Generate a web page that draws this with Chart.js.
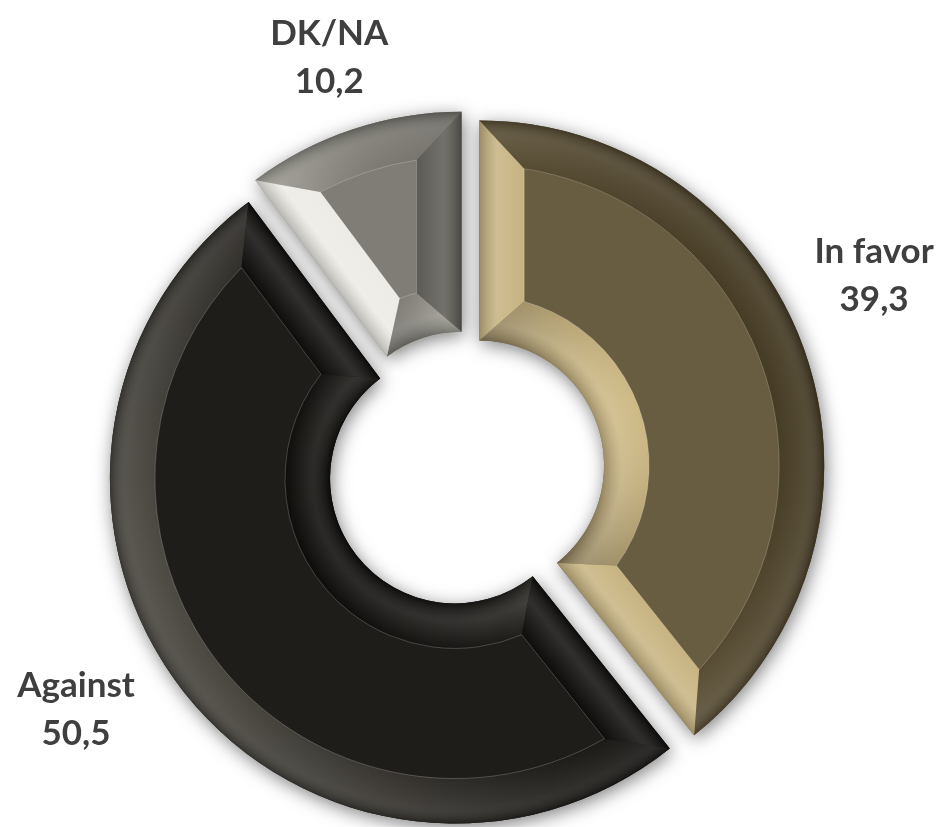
<!DOCTYPE html>
<html>
<head>
<meta charset="utf-8">
<script src="https://cdn.jsdelivr.net/npm/chart.js@4.4.1/dist/chart.umd.min.js"></script>
<style>
  html, body { margin: 0; background: #fff; }
  #wrap { width: 945px; height: 827px; }
</style>
</head>
<body>
<div id="wrap"><canvas id="poll" width="945" height="827"></canvas></div>
<script>
// survey result, percent
const labels = ['In favor', 'Against', 'DK/NA'];
const values = [39.3, 50.5, 10.2];

// per-slice look: flat face, lit bevel, shaded bevel
const faceColors = ['#685c41', '#1f1d1a', '#7f7d75'];
const hiColors = ['#cdb985', '#4c4942', '#f2f0ea'];
const loColors = ['#463c25', '#0d0c0a', '#5a5852'];

const EXPLODE = 14;             // px each slice is pulled out
const BEVEL = 45;               // px width of the bevelled rim
const LIGHT = 160 * Math.PI / 180; // light comes from the west / south-west

function hexRgb(h) {
  const n = parseInt(h.slice(1), 16);
  return [(n >> 16) & 255, (n >> 8) & 255, n & 255];
}
function mix(a, b, t) {
  const x = hexRgb(a), y = hexRgb(b);
  const c = x.map((v, k) => Math.round(v + (y[k] - v) * t));
  return `rgb(${c[0]},${c[1]},${c[2]})`;
}
function shadeAt(i, normal) {
  const k = Math.cos(normal - LIGHT);
  return k >= 0 ? mix(faceColors[i], hiColors[i], k) : mix(faceColors[i], loColors[i], -k);
}
function conic(ctx, x, y, i, shift, fallbackAngle) {
  if (!ctx.createConicGradient) return shadeAt(i, fallbackAngle + shift);
  const g = ctx.createConicGradient(0, x, y);
  for (let d = 0; d <= 360; d += 6) g.addColorStop(d / 360, shadeAt(i, d * Math.PI / 180 + shift));
  return g;
}

// move every arc out along its own bisector (library geometry, shifted)
const explodePlugin = {
  id: 'explode',
  afterDatasetsUpdate(chart) {
    chart.getDatasetMeta(0).data.forEach(arc => {
      const mid = (arc.startAngle + arc.endAngle) / 2;
      arc.x += Math.cos(mid) * EXPLODE;
      arc.y += Math.sin(mid) * EXPLODE;
    });
  }
};

const bevelPlugin = {
  id: 'bevel',
  beforeDatasetsDraw(chart) {
    const ctx = chart.ctx;
    ctx.save();
    ctx.shadowColor = 'rgba(0,0,0,0.5)';
    ctx.shadowBlur = 18;
    ctx.shadowOffsetX = 2;
    ctx.shadowOffsetY = 4;
  },
  afterDatasetsDraw(chart) {
    const ctx = chart.ctx;
    ctx.restore();
    chart.getDatasetMeta(0).data.forEach((arc, i) => {
      const { x, y, startAngle: s, endAngle: e, innerRadius: r, outerRadius: R } = arc;
      const ro = R - BEVEL, ri = r + BEVEL;
      const ao = Math.asin(BEVEL / ro), ai = Math.asin(BEVEL / ri);
      const mid = (s + e) / 2;
      const pt = (rad, a) => [x + Math.cos(a) * rad, y + Math.sin(a) * rad];

      // outer rim
      ctx.beginPath();
      ctx.arc(x, y, R, s, e);
      ctx.arc(x, y, ro, e - ao, s + ao, true);
      ctx.closePath();
      ctx.fillStyle = conic(ctx, x, y, i, 0, mid);
      ctx.fill();
      let g = ctx.createRadialGradient(x, y, ro, x, y, R);
      g.addColorStop(0, 'rgba(255,255,255,0)');
      g.addColorStop(0.6, 'rgba(255,255,255,0.07)');
      g.addColorStop(1, 'rgba(0,0,0,0.25)');
      ctx.fillStyle = g;
      ctx.fill();

      // inner rim
      ctx.beginPath();
      ctx.arc(x, y, r, s, e);
      ctx.arc(x, y, ri, e - ai, s + ai, true);
      ctx.closePath();
      ctx.fillStyle = conic(ctx, x, y, i, Math.PI, mid);
      ctx.fill();
      g = ctx.createRadialGradient(x, y, r, x, y, ri);
      g.addColorStop(0, 'rgba(0,0,0,0.22)');
      g.addColorStop(0.4, 'rgba(255,255,255,0.12)');
      g.addColorStop(1, 'rgba(255,255,255,0)');
      ctx.fillStyle = g;
      ctx.fill();

      // straight side rims
      const sides = [
        { a: s, face: s + ao, faceIn: s + ai, n: s - Math.PI / 2 },
        { a: e, face: e - ao, faceIn: e - ai, n: e + Math.PI / 2 }
      ];
      sides.forEach(side => {
        const p = [pt(R, side.a), pt(r, side.a), pt(ri, side.faceIn), pt(ro, side.face)];
        ctx.beginPath();
        ctx.moveTo(p[0][0], p[0][1]);
        p.slice(1).forEach(q => ctx.lineTo(q[0], q[1]));
        ctx.closePath();
        ctx.fillStyle = shadeAt(i, side.n);
        ctx.fill();
        const m = pt((R + r) / 2, side.a);
        const inward = side.n + Math.PI;
        const lg = ctx.createLinearGradient(m[0], m[1],
          m[0] + Math.cos(inward) * BEVEL, m[1] + Math.sin(inward) * BEVEL);
        lg.addColorStop(0, 'rgba(0,0,0,0.22)');
        lg.addColorStop(0.4, 'rgba(255,255,255,0.14)');
        lg.addColorStop(1, 'rgba(255,255,255,0)');
        ctx.fillStyle = lg;
        ctx.fill();
      });

      // thin rim line around the flat face
      ctx.beginPath();
      ctx.arc(x, y, ro, s + ao, e - ao);
      ctx.arc(x, y, ri, e - ai, s + ai, true);
      ctx.closePath();
      ctx.lineWidth = 1;
      ctx.strokeStyle = 'rgba(255,255,255,0.2)';
      ctx.stroke();
    });
  }
};

// outside labels, placed along each slice's bisector
const labelPlugin = {
  id: 'outLabels',
  afterDraw(chart, args, opts) {
    const ctx = chart.ctx;
    const area = chart.chartArea;
    const cx = (area.left + area.right) / 2;
    const cy = (area.top + area.bottom) / 2;
    ctx.save();
    ctx.font = 'bold 35px Lato, "Open Sans", sans-serif';
    ctx.fillStyle = '#3f3f3f';
    ctx.textAlign = 'center';
    ctx.textBaseline = 'middle';
    chart.getDatasetMeta(0).data.forEach((arc, i) => {
      const a = (arc.startAngle + arc.endAngle) / 2 + opts.turn[i] * Math.PI / 180;
      const px = cx + Math.cos(a) * opts.dist[i];
      const py = cy + Math.sin(a) * opts.dist[i];
      ctx.fillText(labels[i], px, py - 24);
      ctx.fillText(values[i].toFixed(1).replace('.', ','), px, py + 24);
    });
    ctx.restore();
  }
};

new Chart(document.getElementById('poll'), {
  type: 'doughnut',
  data: {
    labels: labels,
    datasets: [{
      data: values,
      backgroundColor: faceColors,
      borderWidth: 0,
      hoverOffset: 0
    }]
  },
  options: {
    responsive: false,
    animation: false,
    devicePixelRatio: 1,
    radius: 345,
    cutout: '36.2%',
    layout: { padding: { left: 0, right: 13, top: 113, bottom: 0 } },
    plugins: {
      legend: { display: false },
      tooltip: { enabled: false },
      outLabels: { dist: [452, 458, 434], turn: [-6.2, 6, 0] }
    }
  },
  plugins: [explodePlugin, bevelPlugin, labelPlugin]
});
</script>
</body>
</html>
